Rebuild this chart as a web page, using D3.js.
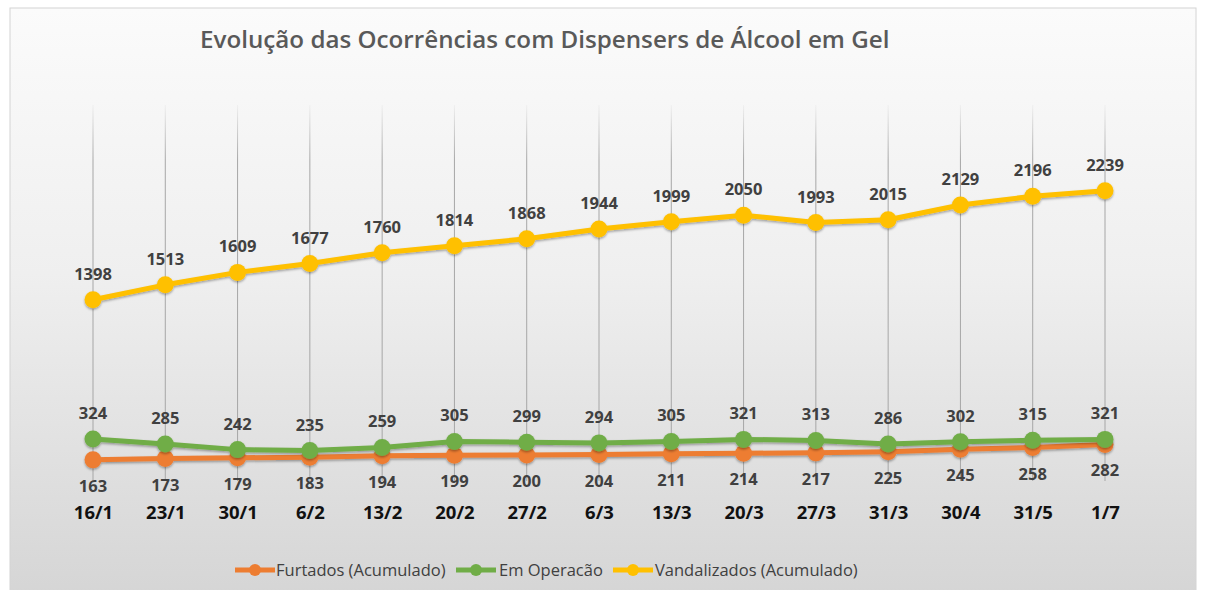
<!DOCTYPE html>
<html>
<head>
<meta charset="utf-8">
<script src="https://cdn.jsdelivr.net/npm/d3@7"></script>
<style>
  body { margin: 0; background: #fff; }
  svg { display: block; font-family: "Open Sans", "Noto Sans", sans-serif; }
</style>
</head>
<body>
<svg id="chart" width="1206" height="590"></svg>
<script>
const categories = ["16/1", "23/1", "30/1", "6/2", "13/2", "20/2", "27/2", "6/3", "13/3", "20/3", "27/3", "31/3", "30/4", "31/5", "1/7"];
const furtados = [163, 173, 179, 183, 194, 199, 200, 204, 211, 214, 217, 225, 245, 258, 282];
const emOperacao = [324, 285, 242, 235, 259, 305, 299, 294, 305, 321, 313, 286, 302, 315, 321];
const vandalizados = [1398, 1513, 1609, 1677, 1760, 1814, 1868, 1944, 1999, 2050, 1993, 2015, 2129, 2196, 2239];
const seriesNames = ["Furtados (Acumulado)", "Em Operacão", "Vandalizados (Acumulado)"];

const svg = d3.select("#chart");
const width = +svg.attr("width");
const height = +svg.attr("height");

const defs = svg.append("defs");

const bg = defs.append("linearGradient")
  .attr("id", "bg").attr("x1", 0).attr("y1", 0).attr("x2", 0).attr("y2", 1);
bg.append("stop").attr("offset", "0%").attr("stop-color", "#fbfbfb");
bg.append("stop").attr("offset", "45%").attr("stop-color", "#efefef");
bg.append("stop").attr("offset", "100%").attr("stop-color", "#d5d5d5");

const gridGrad = defs.append("linearGradient")
  .attr("id", "gridfade").attr("gradientUnits", "userSpaceOnUse")
  .attr("x1", 0).attr("y1", 100).attr("x2", 0).attr("y2", 160);
gridGrad.append("stop").attr("offset", "0%").attr("stop-color", "#a6a6a6").attr("stop-opacity", 0);
gridGrad.append("stop").attr("offset", "100%").attr("stop-color", "#a6a6a6").attr("stop-opacity", 1);

const shadow = defs.append("filter").attr("id", "shadow")
  .attr("x", "-10%").attr("y", "-20%").attr("width", "120%").attr("height", "160%");
shadow.append("feDropShadow")
  .attr("dx", 0).attr("dy", 1.5).attr("stdDeviation", 1.2)
  .attr("flood-color", "#000").attr("flood-opacity", 0.35);

// chart area panel
svg.append("rect")
  .attr("x", 10).attr("y", 8)
  .attr("width", 1186).attr("height", 590)
  .attr("fill", "url(#bg)")
  .attr("stroke", "#d4d4d4");

const x = d3.scalePoint()
  .domain(categories)
  .range([93, 1105]);

const y = d3.scaleLinear()
  .domain([0, 2900])
  .range([481, 105]);

// vertical drop lines
svg.append("g")
  .selectAll("line")
  .data(categories)
  .join("line")
  .attr("x1", d => x(d)).attr("x2", d => x(d))
  .attr("y1", y(2900)).attr("y2", y(0))
  .attr("stroke", "url(#gridfade)")
  .attr("stroke-width", 1);

// category axis labels
const xAxis = d3.axisBottom(x).tickSize(0).tickPadding(0);
const axisG = svg.append("g")
  .attr("transform", "translate(0, 506)")
  .call(xAxis);
axisG.select(".domain").remove();
axisG.selectAll("text")
  .attr("font-family", "\"Open Sans\", sans-serif")
  .attr("font-size", 18.5)
  .attr("font-weight", "bold")
  .attr("fill", "#111");

const series = [
  { name: seriesNames[0], values: furtados, color: "#ED7D31", labelPos: "below" },
  { name: seriesNames[1], values: emOperacao, color: "#70AD47", labelPos: "above" },
  { name: seriesNames[2], values: vandalizados, color: "#FFC000", labelPos: "above" }
];

const line = d3.line()
  .x((d, i) => x(categories[i]))
  .y(d => y(d));

series.forEach(s => {
  const g = svg.append("g").attr("filter", "url(#shadow)");
  g.append("path")
    .datum(s.values)
    .attr("d", line)
    .attr("fill", "none")
    .attr("stroke", s.color)
    .attr("stroke-width", 5)
    .attr("stroke-linejoin", "round");
  g.selectAll("circle")
    .data(s.values)
    .join("circle")
    .attr("cx", (d, i) => x(categories[i]))
    .attr("cy", d => y(d))
    .attr("r", 8.5)
    .attr("fill", s.color);
});

series.forEach(s => {
  svg.append("g")
    .selectAll("text")
    .data(s.values)
    .join("text")
    .attr("x", (d, i) => x(categories[i]))
    .attr("y", d => s.labelPos === "above" ? y(d) - 20 : y(d) + 32)
    .attr("text-anchor", "middle")
    .attr("font-size", 16.5)
    .attr("font-weight", "bold")
    .attr("fill", "#404040")
    .text(d => d);
});

// title
const title = svg.append("text")
  .attr("x", 200).attr("y", 48)
  .attr("font-size", 24)
  .attr("font-weight", 600)
  .attr("fill", "#595959")
  .text("Evolução das Ocorrências com Dispensers de Álcool em Gel");
const tw = title.node().getComputedTextLength();
title.attr("font-size", 24 * 690 / tw);

// legend
const legendItems = [
  { name: seriesNames[0], color: "#ED7D31", mx: 235, tx: 276 },
  { name: seriesNames[1], color: "#70AD47", mx: 456, tx: 499 },
  { name: seriesNames[2], color: "#FFC000", mx: 613, tx: 655 }
];
const legend = svg.append("g");
legendItems.forEach(it => {
  legend.append("line")
    .attr("x1", it.mx).attr("x2", it.mx + 40)
    .attr("y1", 570).attr("y2", 570)
    .attr("stroke", it.color).attr("stroke-width", 5);
  legend.append("circle")
    .attr("cx", it.mx + 20).attr("cy", 570).attr("r", 6)
    .attr("fill", it.color);
  legend.append("text")
    .attr("x", it.tx).attr("y", 576)
    .attr("font-size", 16.5)
    .attr("fill", "#404040")
    .text(it.name);
});
</script>
</body>
</html>
